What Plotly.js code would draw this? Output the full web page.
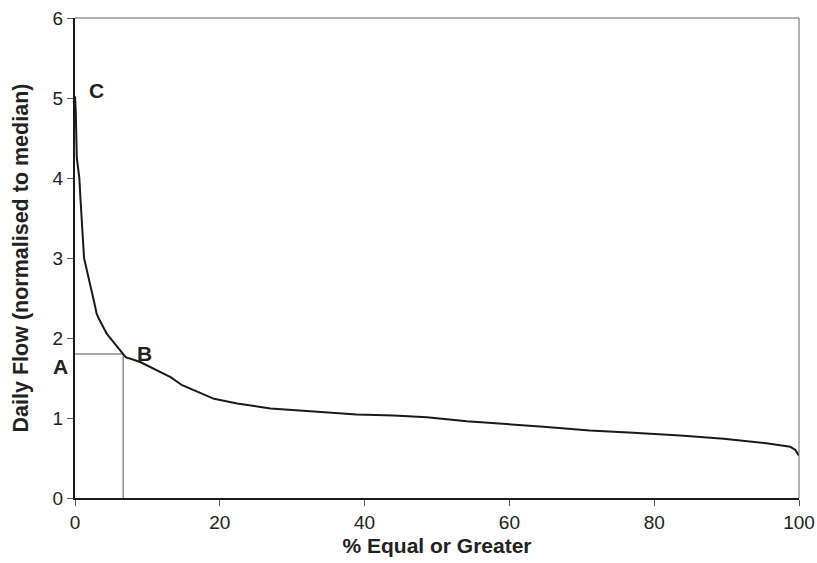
<!DOCTYPE html>
<html>
<head>
<meta charset="utf-8">
<script src="https://cdn.plot.ly/plotly-3.0.1.min.js"></script>
<style>html,body{margin:0;padding:0;background:#fff;}#chart{width:817px;height:563px;}</style>
</head>
<body>
<div id="chart"></div>
<script>
// Flow duration curve
var pctExceed = [0, 0.1, 0.25, 0.4, 0.6, 0.75, 1.0, 1.25, 1.5, 2.0, 2.6, 3.0, 3.3, 4.4, 5.6, 6.65, 7.0, 9.0, 11.3, 13.2, 14.8, 16.6, 19.2, 22.4, 27.0, 32.5, 38.9, 44.0, 48.6, 54.1, 59.2, 64.7, 71.1, 75.3, 77.1, 83.6, 89.6, 95.5, 98.8, 99.5, 99.8, 100];
var flowNorm  = [5.02, 4.85, 4.25, 4.15, 4.0, 3.75, 3.43, 3.0, 2.9, 2.72, 2.47, 2.3, 2.24, 2.05, 1.91, 1.8, 1.76, 1.70, 1.60, 1.51, 1.41, 1.34, 1.24, 1.18, 1.12, 1.085, 1.045, 1.03, 1.01, 0.96, 0.93, 0.89, 0.845, 0.82, 0.815, 0.78, 0.74, 0.685, 0.64, 0.60, 0.56, 0.53];
// Reference point B
var refX = 6.65;
var refY = 1.8;
var xTicks = [0, 20, 40, 60, 80, 100];
var yTicks = [0, 1, 2, 3, 4, 5, 6];
var labels = ["A", "B", "C"];

var font = "Liberation Sans, Arial, sans-serif";

var traces = [
  {x: [0, refX, refX], y: [refY, refY, 0], mode: "lines", line: {color: "#555", width: 1}, hoverinfo: "skip"},
  {x: pctExceed, y: flowNorm, mode: "lines", line: {color: "#1a1a1a", width: 2}}
];

var layout = {
  width: 817, height: 563,
  margin: {l: 75, r: 18, t: 18, b: 65, pad: 0},
  paper_bgcolor: "#fff", plot_bgcolor: "#fff",
  showlegend: false,
  font: {family: font, color: "#222", size: 19},
  xaxis: {
    range: [0, 100], tickvals: xTicks, ticktext: xTicks.map(String),
    showgrid: false, zeroline: false, showline: true, linecolor: "#1a1a1a", linewidth: 2,
    ticks: "outside", ticklen: 6, tickcolor: "#555", tickwidth: 1,
    tickfont: {family: font, size: 19, color: "#222"},
    title: {text: "<b>% Equal or Greater</b>", font: {family: font, size: 21, color: "#222"}, standoff: 7}
  },
  yaxis: {
    range: [0, 6], tickvals: yTicks, ticktext: yTicks.map(String),
    showgrid: false, zeroline: false, showline: true, linecolor: "#1a1a1a", linewidth: 2,
    ticks: "outside", ticklen: 6, tickcolor: "#555", tickwidth: 1,
    tickfont: {family: font, size: 19, color: "#222"},
    title: {text: "<b>Daily Flow (normalised to median)</b>", font: {family: font, size: 21.5, color: "#222"}, standoff: 18}
  },
  shapes: [
    {type: "line", xref: "paper", yref: "paper", x0: 0, x1: 1, y0: 1, y1: 1, line: {color: "#666", width: 1}},
    {type: "line", xref: "paper", yref: "paper", x0: 1, x1: 1, y0: 0, y1: 1, line: {color: "#666", width: 1}}
  ],
  annotations: [
    {text: "<b>" + labels[0] + "</b>", xref: "paper", x: -0.02, yref: "y", y: refY - 0.15, showarrow: false, xanchor: "center", font: {family: font, size: 21, color: "#222"}},
    {text: "<b>" + labels[1] + "</b>", xref: "x", x: refX + 3.0, yref: "y", y: refY + 0.01, showarrow: false, xanchor: "center", font: {family: font, size: 21, color: "#222"}},
    {text: "<b>" + labels[2] + "</b>", xref: "x", x: 2.9, yref: "y", y: 5.1, showarrow: false, xanchor: "center", font: {family: font, size: 21, color: "#222"}}
  ]
};

Plotly.newPlot("chart", traces, layout, {displayModeBar: false, staticPlot: true});
</script>
</body>
</html>
